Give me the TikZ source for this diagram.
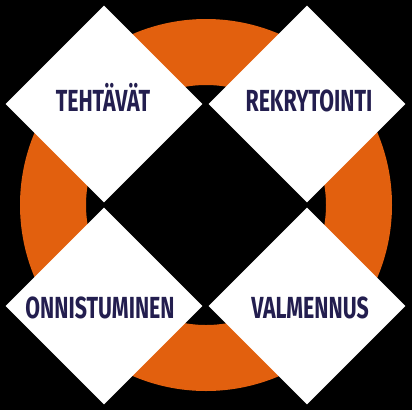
\documentclass[tikz,border=0pt]{standalone}
\usepackage{fontspec}
\setmainfont{Fira Sans}
\usetikzlibrary{shapes.geometric}
\definecolor{ringorange}{HTML}{E2600E}
\definecolor{navy}{HTML}{231E4F}
\begin{document}
\begin{tikzpicture}[x=1pt,y=-1pt,
  diam/.style={shape=diamond, fill=white, draw=none, inner sep=0pt, minimum width=197pt, minimum height=197pt},
  lab/.style={text=navy, font=\fontsize{30.5}{30.5}\selectfont\bfseries, inner sep=0pt, anchor=base}]
\useasboundingbox (0,0) rectangle (412,410);
\fill[black] (0,0) rectangle (412,410);
\fill[ringorange, even odd rule] (206,205) circle (186) (206,205) circle (120);
\node[diam] (d1) at (104,104) {};
\node[diam] (d2) at (307,104) {};
\node[diam] (d3) at (104,306) {};
\node[diam] (d4) at (307,306) {};
\node[lab] (t1) at (103,111) {\scalebox{0.7}[1]{TEHTÄVÄT}};
\node[lab] (t2) at (309,111) {\scalebox{0.7}[1]{REKRYTOINTI}};
\node[lab] (t3) at (100,318) {\scalebox{0.7}[1]{ONNISTUMINEN}};
\node[lab] (t4) at (310,318) {\scalebox{0.7}[1]{VALMENNUS}};
\end{tikzpicture}
\end{document}
